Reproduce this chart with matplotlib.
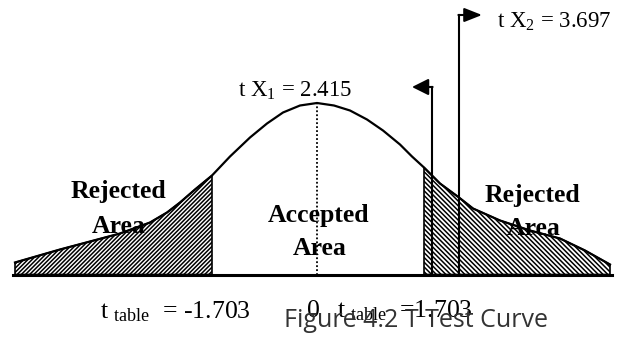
import matplotlib
matplotlib.use("Agg")
import matplotlib.pyplot as plt
import numpy as np

plt.rcParams['mathtext.fontset'] = 'custom'
plt.rcParams['mathtext.rm'] = 'Liberation Serif'
plt.rcParams['mathtext.it'] = 'Liberation Serif:italic'
plt.rcParams['hatch.linewidth'] = 1.1

# Curve (horizontal position, height above baseline)
curve_x = [15, 60, 120, 150, 167, 180, 195, 212, 230, 250, 267, 283, 300, 317,
           334, 350, 367, 383, 400, 412, 424, 440, 459, 473, 500, 530, 560, 585, 610]
curve_h = [12, 25, 41, 52, 62, 72, 85, 99, 118, 137, 151, 162, 169, 171.5,
           169, 164, 155, 144, 130, 118, 107, 91, 77, 66, 54, 44, 36, 24, 10]

t_table_left = 212     # position of t table = -1.703
t_table_right = 424    # position of t table = 1.703
center_x = 317         # position of 0
tx1_x = 432            # t X1 line
tx2_x = 459            # t X2 line

labels_bottom = ["t $_{\\rm table}$  = -1.703", "0", "t $_{\\rm table}$  =1.703"]
label_tx1 = "t X$_{1}$ = 2.415"
label_tx2 = "t X$_{2}$ = 3.697"
caption = "Figure 4.2 T Test Curve"

cx = np.array(curve_x, dtype=float)
ch = np.array(curve_h, dtype=float)

fig = plt.figure(figsize=(6.26, 3.37), dpi=100)
ax = fig.add_axes([0, 0, 1, 1])
ax.set_xlim(0, 626)
ax.set_ylim(-62.5, 274.5)
ax.axis('off')

# hatched rejection regions
ml = cx <= t_table_left
mr = cx >= t_table_right
ax.fill_between(cx[ml], 0, ch[ml], facecolor='white', edgecolor='black',
                hatch='/' * 8, linewidth=1.2, zorder=2)
ax.fill_between(cx[mr], 0, ch[mr], facecolor='white', edgecolor='black',
                hatch='\\' * 7, linewidth=1.2, zorder=2)

# curve
ax.plot(cx, ch, color='black', lw=1.6, zorder=3)
# baseline
ax.plot([cx[0] - 2, cx[-1] + 2], [0, 0], color='black', lw=2.2, zorder=4)
# dotted center
ax.plot([center_x, center_x], [0, ch[cx == center_x][0]], color='black',
        lw=1.3, ls=(0, (1, 1.2)), zorder=3)

# t X1 line + arrow (left)
y1 = 187.5
ax.plot([tx1_x, tx1_x], [0, y1], color='black', lw=1.5, zorder=4)
ax.annotate('', xy=(412, y1), xytext=(tx1_x + 0.6, y1),
            arrowprops=dict(arrowstyle='-|>,head_length=0.4,head_width=0.2',
                            mutation_scale=25, color='black', lw=1.5,
                            shrinkA=0, shrinkB=0), zorder=4)
# t X2 line + arrow (right)
y2 = 259.5
ax.plot([tx2_x, tx2_x], [0, y2], color='black', lw=1.5, zorder=4)
ax.annotate('', xy=(482, y2), xytext=(tx2_x - 0.6, y2),
            arrowprops=dict(arrowstyle='-|>,head_length=0.43,head_width=0.17',
                            mutation_scale=25, color='black', lw=1.5,
                            shrinkA=0, shrinkB=0), zorder=4)

serif = 'Liberation Serif'
ax.text(238, 177.5, label_tx1, family=serif, fontsize=16.5, ha='left', va='baseline')
ax.text(497, 246.5, label_tx2, family=serif, fontsize=16.5, ha='left', va='baseline')

bold = dict(family=serif, fontsize=18.5, fontweight='bold', ha='center',
            va='baseline', zorder=5)
ax.text(118.5, 76.5, "Rejected", **bold)
ax.text(119, 41.5, "Area", **bold)
ax.text(319, 52.5, "Accepted", **bold)
ax.text(320, 19.5, "Area", **bold)
ax.text(532.5, 72.5, "Rejected", **bold)
ax.text(533.5, 39.5, "Area", **bold)

ax.text(100, -43.5, labels_bottom[0], family=serif, fontsize=18.5, ha='left', va='baseline')
ax.text(313.5, -42.5, labels_bottom[1], family=serif, fontsize=18.5, ha='center', va='baseline')
ax.text(337, -42.5, labels_bottom[2], family=serif, fontsize=18.5, ha='left', va='baseline')

ax.text(284, -52.5, caption, family='Open Sans', fontsize=18, color='#333333',
        ha='left', va='baseline')

fig.savefig('out.png', dpi=100)
